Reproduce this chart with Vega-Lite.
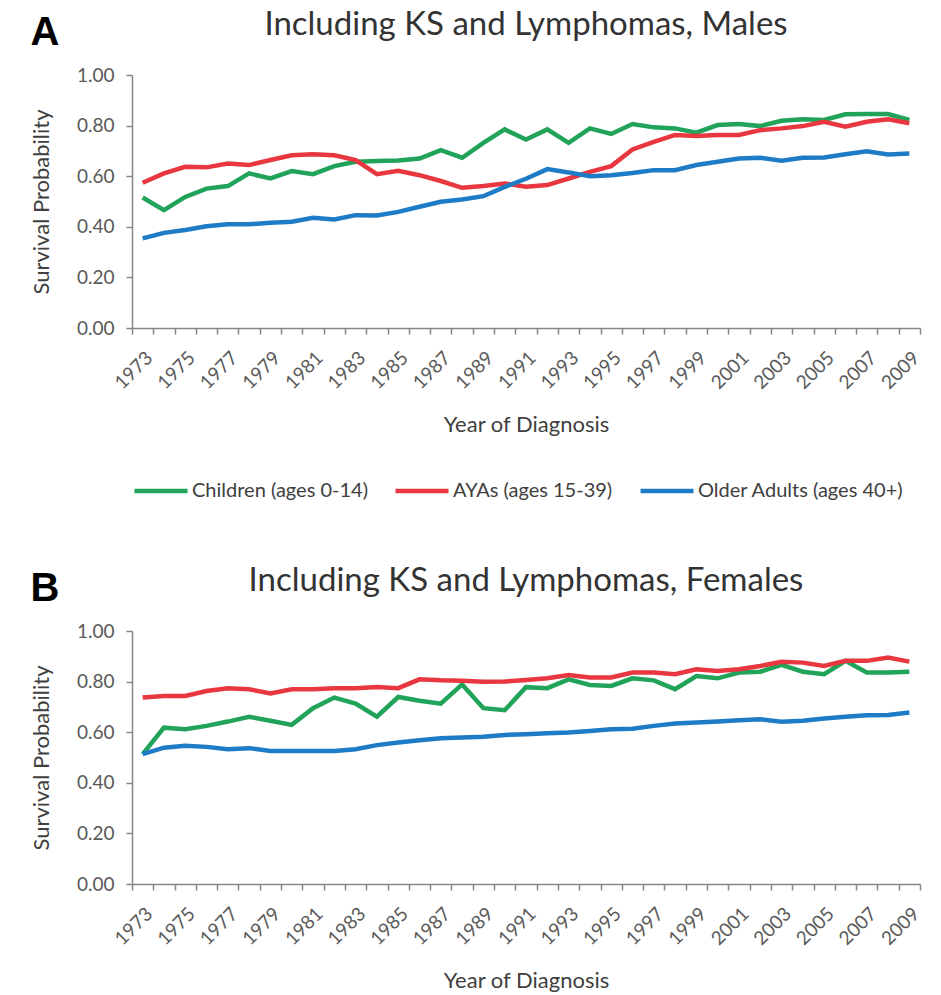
{
  "$schema": "https://vega.github.io/schema/vega-lite/v6.json",
  "background": "white",
  "padding": {"left": 30, "top": 9, "right": 10, "bottom": 2},
  "spacing": 64,
  "config": {
    "font": "Lato",
    "view": {"stroke": null},
    "axis": {
      "labelFont": "Lato",
      "titleFont": "Lato",
      "labelColor": "#595959",
      "titleColor": "#404040",
      "domainColor": "#868686",
      "tickColor": "#868686",
      "domainWidth": 1.5,
      "tickWidth": 1.5,
      "labelFontSize": 19,
      "titleFontSize": 22,
      "titleFontWeight": "normal",
      "grid": false
    },
    "legend": {
      "labelFont": "Lato",
      "labelFontSize": 20,
      "labelColor": "#404040",
      "labelLimit": 300
    }
  },
  "datasets": {
    "survival": [
      {"sex": "M", "year": 1973, "group": "Children (ages 0-14)", "p": 0.516},
      {"sex": "M", "year": 1974, "group": "Children (ages 0-14)", "p": 0.466},
      {"sex": "M", "year": 1975, "group": "Children (ages 0-14)", "p": 0.518},
      {"sex": "M", "year": 1976, "group": "Children (ages 0-14)", "p": 0.551},
      {"sex": "M", "year": 1977, "group": "Children (ages 0-14)", "p": 0.561},
      {"sex": "M", "year": 1978, "group": "Children (ages 0-14)", "p": 0.611},
      {"sex": "M", "year": 1979, "group": "Children (ages 0-14)", "p": 0.591},
      {"sex": "M", "year": 1980, "group": "Children (ages 0-14)", "p": 0.62},
      {"sex": "M", "year": 1981, "group": "Children (ages 0-14)", "p": 0.608},
      {"sex": "M", "year": 1982, "group": "Children (ages 0-14)", "p": 0.64},
      {"sex": "M", "year": 1983, "group": "Children (ages 0-14)", "p": 0.657},
      {"sex": "M", "year": 1984, "group": "Children (ages 0-14)", "p": 0.66},
      {"sex": "M", "year": 1985, "group": "Children (ages 0-14)", "p": 0.662},
      {"sex": "M", "year": 1986, "group": "Children (ages 0-14)", "p": 0.67},
      {"sex": "M", "year": 1987, "group": "Children (ages 0-14)", "p": 0.703},
      {"sex": "M", "year": 1988, "group": "Children (ages 0-14)", "p": 0.673},
      {"sex": "M", "year": 1989, "group": "Children (ages 0-14)", "p": 0.732},
      {"sex": "M", "year": 1990, "group": "Children (ages 0-14)", "p": 0.785},
      {"sex": "M", "year": 1991, "group": "Children (ages 0-14)", "p": 0.745},
      {"sex": "M", "year": 1992, "group": "Children (ages 0-14)", "p": 0.785},
      {"sex": "M", "year": 1993, "group": "Children (ages 0-14)", "p": 0.732},
      {"sex": "M", "year": 1994, "group": "Children (ages 0-14)", "p": 0.789},
      {"sex": "M", "year": 1995, "group": "Children (ages 0-14)", "p": 0.767},
      {"sex": "M", "year": 1996, "group": "Children (ages 0-14)", "p": 0.806},
      {"sex": "M", "year": 1997, "group": "Children (ages 0-14)", "p": 0.793},
      {"sex": "M", "year": 1998, "group": "Children (ages 0-14)", "p": 0.789},
      {"sex": "M", "year": 1999, "group": "Children (ages 0-14)", "p": 0.772},
      {"sex": "M", "year": 2000, "group": "Children (ages 0-14)", "p": 0.802},
      {"sex": "M", "year": 2001, "group": "Children (ages 0-14)", "p": 0.806},
      {"sex": "M", "year": 2002, "group": "Children (ages 0-14)", "p": 0.798},
      {"sex": "M", "year": 2003, "group": "Children (ages 0-14)", "p": 0.819},
      {"sex": "M", "year": 2004, "group": "Children (ages 0-14)", "p": 0.825},
      {"sex": "M", "year": 2005, "group": "Children (ages 0-14)", "p": 0.822},
      {"sex": "M", "year": 2006, "group": "Children (ages 0-14)", "p": 0.845},
      {"sex": "M", "year": 2007, "group": "Children (ages 0-14)", "p": 0.846},
      {"sex": "M", "year": 2008, "group": "Children (ages 0-14)", "p": 0.846},
      {"sex": "M", "year": 2009, "group": "Children (ages 0-14)", "p": 0.822},
      {"sex": "M", "year": 1973, "group": "AYAs (ages 15-39)", "p": 0.574},
      {"sex": "M", "year": 1974, "group": "AYAs (ages 15-39)", "p": 0.611},
      {"sex": "M", "year": 1975, "group": "AYAs (ages 15-39)", "p": 0.637},
      {"sex": "M", "year": 1976, "group": "AYAs (ages 15-39)", "p": 0.635},
      {"sex": "M", "year": 1977, "group": "AYAs (ages 15-39)", "p": 0.65},
      {"sex": "M", "year": 1978, "group": "AYAs (ages 15-39)", "p": 0.644},
      {"sex": "M", "year": 1979, "group": "AYAs (ages 15-39)", "p": 0.664},
      {"sex": "M", "year": 1980, "group": "AYAs (ages 15-39)", "p": 0.683},
      {"sex": "M", "year": 1981, "group": "AYAs (ages 15-39)", "p": 0.687},
      {"sex": "M", "year": 1982, "group": "AYAs (ages 15-39)", "p": 0.683},
      {"sex": "M", "year": 1983, "group": "AYAs (ages 15-39)", "p": 0.664},
      {"sex": "M", "year": 1984, "group": "AYAs (ages 15-39)", "p": 0.608},
      {"sex": "M", "year": 1985, "group": "AYAs (ages 15-39)", "p": 0.621},
      {"sex": "M", "year": 1986, "group": "AYAs (ages 15-39)", "p": 0.604},
      {"sex": "M", "year": 1987, "group": "AYAs (ages 15-39)", "p": 0.581},
      {"sex": "M", "year": 1988, "group": "AYAs (ages 15-39)", "p": 0.554},
      {"sex": "M", "year": 1989, "group": "AYAs (ages 15-39)", "p": 0.561},
      {"sex": "M", "year": 1990, "group": "AYAs (ages 15-39)", "p": 0.571},
      {"sex": "M", "year": 1991, "group": "AYAs (ages 15-39)", "p": 0.558},
      {"sex": "M", "year": 1992, "group": "AYAs (ages 15-39)", "p": 0.565},
      {"sex": "M", "year": 1993, "group": "AYAs (ages 15-39)", "p": 0.591},
      {"sex": "M", "year": 1994, "group": "AYAs (ages 15-39)", "p": 0.617},
      {"sex": "M", "year": 1995, "group": "AYAs (ages 15-39)", "p": 0.64},
      {"sex": "M", "year": 1996, "group": "AYAs (ages 15-39)", "p": 0.706},
      {"sex": "M", "year": 1997, "group": "AYAs (ages 15-39)", "p": 0.736},
      {"sex": "M", "year": 1998, "group": "AYAs (ages 15-39)", "p": 0.763},
      {"sex": "M", "year": 1999, "group": "AYAs (ages 15-39)", "p": 0.759},
      {"sex": "M", "year": 2000, "group": "AYAs (ages 15-39)", "p": 0.763},
      {"sex": "M", "year": 2001, "group": "AYAs (ages 15-39)", "p": 0.763},
      {"sex": "M", "year": 2002, "group": "AYAs (ages 15-39)", "p": 0.782},
      {"sex": "M", "year": 2003, "group": "AYAs (ages 15-39)", "p": 0.789},
      {"sex": "M", "year": 2004, "group": "AYAs (ages 15-39)", "p": 0.798},
      {"sex": "M", "year": 2005, "group": "AYAs (ages 15-39)", "p": 0.815},
      {"sex": "M", "year": 2006, "group": "AYAs (ages 15-39)", "p": 0.796},
      {"sex": "M", "year": 2007, "group": "AYAs (ages 15-39)", "p": 0.815},
      {"sex": "M", "year": 2008, "group": "AYAs (ages 15-39)", "p": 0.825},
      {"sex": "M", "year": 2009, "group": "AYAs (ages 15-39)", "p": 0.809},
      {"sex": "M", "year": 1973, "group": "Older Adults (ages 40+)", "p": 0.354},
      {"sex": "M", "year": 1974, "group": "Older Adults (ages 40+)", "p": 0.376},
      {"sex": "M", "year": 1975, "group": "Older Adults (ages 40+)", "p": 0.387},
      {"sex": "M", "year": 1976, "group": "Older Adults (ages 40+)", "p": 0.402},
      {"sex": "M", "year": 1977, "group": "Older Adults (ages 40+)", "p": 0.41},
      {"sex": "M", "year": 1978, "group": "Older Adults (ages 40+)", "p": 0.41},
      {"sex": "M", "year": 1979, "group": "Older Adults (ages 40+)", "p": 0.416},
      {"sex": "M", "year": 1980, "group": "Older Adults (ages 40+)", "p": 0.42},
      {"sex": "M", "year": 1981, "group": "Older Adults (ages 40+)", "p": 0.436},
      {"sex": "M", "year": 1982, "group": "Older Adults (ages 40+)", "p": 0.429},
      {"sex": "M", "year": 1983, "group": "Older Adults (ages 40+)", "p": 0.446},
      {"sex": "M", "year": 1984, "group": "Older Adults (ages 40+)", "p": 0.445},
      {"sex": "M", "year": 1985, "group": "Older Adults (ages 40+)", "p": 0.459},
      {"sex": "M", "year": 1986, "group": "Older Adults (ages 40+)", "p": 0.479},
      {"sex": "M", "year": 1987, "group": "Older Adults (ages 40+)", "p": 0.499},
      {"sex": "M", "year": 1988, "group": "Older Adults (ages 40+)", "p": 0.508},
      {"sex": "M", "year": 1989, "group": "Older Adults (ages 40+)", "p": 0.521},
      {"sex": "M", "year": 1990, "group": "Older Adults (ages 40+)", "p": 0.558},
      {"sex": "M", "year": 1991, "group": "Older Adults (ages 40+)", "p": 0.59},
      {"sex": "M", "year": 1992, "group": "Older Adults (ages 40+)", "p": 0.628},
      {"sex": "M", "year": 1993, "group": "Older Adults (ages 40+)", "p": 0.615},
      {"sex": "M", "year": 1994, "group": "Older Adults (ages 40+)", "p": 0.6},
      {"sex": "M", "year": 1995, "group": "Older Adults (ages 40+)", "p": 0.604},
      {"sex": "M", "year": 1996, "group": "Older Adults (ages 40+)", "p": 0.613},
      {"sex": "M", "year": 1997, "group": "Older Adults (ages 40+)", "p": 0.624},
      {"sex": "M", "year": 1998, "group": "Older Adults (ages 40+)", "p": 0.624},
      {"sex": "M", "year": 1999, "group": "Older Adults (ages 40+)", "p": 0.644},
      {"sex": "M", "year": 2000, "group": "Older Adults (ages 40+)", "p": 0.657},
      {"sex": "M", "year": 2001, "group": "Older Adults (ages 40+)", "p": 0.67},
      {"sex": "M", "year": 2002, "group": "Older Adults (ages 40+)", "p": 0.673},
      {"sex": "M", "year": 2003, "group": "Older Adults (ages 40+)", "p": 0.661},
      {"sex": "M", "year": 2004, "group": "Older Adults (ages 40+)", "p": 0.673},
      {"sex": "M", "year": 2005, "group": "Older Adults (ages 40+)", "p": 0.674},
      {"sex": "M", "year": 2006, "group": "Older Adults (ages 40+)", "p": 0.687},
      {"sex": "M", "year": 2007, "group": "Older Adults (ages 40+)", "p": 0.699},
      {"sex": "M", "year": 2008, "group": "Older Adults (ages 40+)", "p": 0.686},
      {"sex": "M", "year": 2009, "group": "Older Adults (ages 40+)", "p": 0.69},
      {"sex": "F", "year": 1973, "group": "Children (ages 0-14)", "p": 0.513},
      {"sex": "F", "year": 1974, "group": "Children (ages 0-14)", "p": 0.618},
      {"sex": "F", "year": 1975, "group": "Children (ages 0-14)", "p": 0.612},
      {"sex": "F", "year": 1976, "group": "Children (ages 0-14)", "p": 0.625},
      {"sex": "F", "year": 1977, "group": "Children (ages 0-14)", "p": 0.642},
      {"sex": "F", "year": 1978, "group": "Children (ages 0-14)", "p": 0.661},
      {"sex": "F", "year": 1979, "group": "Children (ages 0-14)", "p": 0.645},
      {"sex": "F", "year": 1980, "group": "Children (ages 0-14)", "p": 0.629},
      {"sex": "F", "year": 1981, "group": "Children (ages 0-14)", "p": 0.695},
      {"sex": "F", "year": 1982, "group": "Children (ages 0-14)", "p": 0.737},
      {"sex": "F", "year": 1983, "group": "Children (ages 0-14)", "p": 0.713},
      {"sex": "F", "year": 1984, "group": "Children (ages 0-14)", "p": 0.661},
      {"sex": "F", "year": 1985, "group": "Children (ages 0-14)", "p": 0.739},
      {"sex": "F", "year": 1986, "group": "Children (ages 0-14)", "p": 0.724},
      {"sex": "F", "year": 1987, "group": "Children (ages 0-14)", "p": 0.713},
      {"sex": "F", "year": 1988, "group": "Children (ages 0-14)", "p": 0.789},
      {"sex": "F", "year": 1989, "group": "Children (ages 0-14)", "p": 0.695},
      {"sex": "F", "year": 1990, "group": "Children (ages 0-14)", "p": 0.687},
      {"sex": "F", "year": 1991, "group": "Children (ages 0-14)", "p": 0.778},
      {"sex": "F", "year": 1992, "group": "Children (ages 0-14)", "p": 0.774},
      {"sex": "F", "year": 1993, "group": "Children (ages 0-14)", "p": 0.809},
      {"sex": "F", "year": 1994, "group": "Children (ages 0-14)", "p": 0.787},
      {"sex": "F", "year": 1995, "group": "Children (ages 0-14)", "p": 0.783},
      {"sex": "F", "year": 1996, "group": "Children (ages 0-14)", "p": 0.813},
      {"sex": "F", "year": 1997, "group": "Children (ages 0-14)", "p": 0.805},
      {"sex": "F", "year": 1998, "group": "Children (ages 0-14)", "p": 0.77},
      {"sex": "F", "year": 1999, "group": "Children (ages 0-14)", "p": 0.822},
      {"sex": "F", "year": 2000, "group": "Children (ages 0-14)", "p": 0.813},
      {"sex": "F", "year": 2001, "group": "Children (ages 0-14)", "p": 0.836},
      {"sex": "F", "year": 2002, "group": "Children (ages 0-14)", "p": 0.839},
      {"sex": "F", "year": 2003, "group": "Children (ages 0-14)", "p": 0.866},
      {"sex": "F", "year": 2004, "group": "Children (ages 0-14)", "p": 0.839},
      {"sex": "F", "year": 2005, "group": "Children (ages 0-14)", "p": 0.829},
      {"sex": "F", "year": 2006, "group": "Children (ages 0-14)", "p": 0.882},
      {"sex": "F", "year": 2007, "group": "Children (ages 0-14)", "p": 0.836},
      {"sex": "F", "year": 2008, "group": "Children (ages 0-14)", "p": 0.836},
      {"sex": "F", "year": 2009, "group": "Children (ages 0-14)", "p": 0.839},
      {"sex": "F", "year": 1973, "group": "AYAs (ages 15-39)", "p": 0.737},
      {"sex": "F", "year": 1974, "group": "AYAs (ages 15-39)", "p": 0.743},
      {"sex": "F", "year": 1975, "group": "AYAs (ages 15-39)", "p": 0.743},
      {"sex": "F", "year": 1976, "group": "AYAs (ages 15-39)", "p": 0.763},
      {"sex": "F", "year": 1977, "group": "AYAs (ages 15-39)", "p": 0.774},
      {"sex": "F", "year": 1978, "group": "AYAs (ages 15-39)", "p": 0.77},
      {"sex": "F", "year": 1979, "group": "AYAs (ages 15-39)", "p": 0.753},
      {"sex": "F", "year": 1980, "group": "AYAs (ages 15-39)", "p": 0.77},
      {"sex": "F", "year": 1981, "group": "AYAs (ages 15-39)", "p": 0.77},
      {"sex": "F", "year": 1982, "group": "AYAs (ages 15-39)", "p": 0.774},
      {"sex": "F", "year": 1983, "group": "AYAs (ages 15-39)", "p": 0.774},
      {"sex": "F", "year": 1984, "group": "AYAs (ages 15-39)", "p": 0.779},
      {"sex": "F", "year": 1985, "group": "AYAs (ages 15-39)", "p": 0.774},
      {"sex": "F", "year": 1986, "group": "AYAs (ages 15-39)", "p": 0.809},
      {"sex": "F", "year": 1987, "group": "AYAs (ages 15-39)", "p": 0.805},
      {"sex": "F", "year": 1988, "group": "AYAs (ages 15-39)", "p": 0.803},
      {"sex": "F", "year": 1989, "group": "AYAs (ages 15-39)", "p": 0.799},
      {"sex": "F", "year": 1990, "group": "AYAs (ages 15-39)", "p": 0.8},
      {"sex": "F", "year": 1991, "group": "AYAs (ages 15-39)", "p": 0.806},
      {"sex": "F", "year": 1992, "group": "AYAs (ages 15-39)", "p": 0.813},
      {"sex": "F", "year": 1993, "group": "AYAs (ages 15-39)", "p": 0.826},
      {"sex": "F", "year": 1994, "group": "AYAs (ages 15-39)", "p": 0.816},
      {"sex": "F", "year": 1995, "group": "AYAs (ages 15-39)", "p": 0.816},
      {"sex": "F", "year": 1996, "group": "AYAs (ages 15-39)", "p": 0.836},
      {"sex": "F", "year": 1997, "group": "AYAs (ages 15-39)", "p": 0.836},
      {"sex": "F", "year": 1998, "group": "AYAs (ages 15-39)", "p": 0.829},
      {"sex": "F", "year": 1999, "group": "AYAs (ages 15-39)", "p": 0.849},
      {"sex": "F", "year": 2000, "group": "AYAs (ages 15-39)", "p": 0.842},
      {"sex": "F", "year": 2001, "group": "AYAs (ages 15-39)", "p": 0.849},
      {"sex": "F", "year": 2002, "group": "AYAs (ages 15-39)", "p": 0.862},
      {"sex": "F", "year": 2003, "group": "AYAs (ages 15-39)", "p": 0.878},
      {"sex": "F", "year": 2004, "group": "AYAs (ages 15-39)", "p": 0.875},
      {"sex": "F", "year": 2005, "group": "AYAs (ages 15-39)", "p": 0.862},
      {"sex": "F", "year": 2006, "group": "AYAs (ages 15-39)", "p": 0.882},
      {"sex": "F", "year": 2007, "group": "AYAs (ages 15-39)", "p": 0.882},
      {"sex": "F", "year": 2008, "group": "AYAs (ages 15-39)", "p": 0.895},
      {"sex": "F", "year": 2009, "group": "AYAs (ages 15-39)", "p": 0.879},
      {"sex": "F", "year": 1973, "group": "Older Adults (ages 40+)", "p": 0.513},
      {"sex": "F", "year": 1974, "group": "Older Adults (ages 40+)", "p": 0.539},
      {"sex": "F", "year": 1975, "group": "Older Adults (ages 40+)", "p": 0.546},
      {"sex": "F", "year": 1976, "group": "Older Adults (ages 40+)", "p": 0.542},
      {"sex": "F", "year": 1977, "group": "Older Adults (ages 40+)", "p": 0.533},
      {"sex": "F", "year": 1978, "group": "Older Adults (ages 40+)", "p": 0.537},
      {"sex": "F", "year": 1979, "group": "Older Adults (ages 40+)", "p": 0.526},
      {"sex": "F", "year": 1980, "group": "Older Adults (ages 40+)", "p": 0.526},
      {"sex": "F", "year": 1981, "group": "Older Adults (ages 40+)", "p": 0.526},
      {"sex": "F", "year": 1982, "group": "Older Adults (ages 40+)", "p": 0.526},
      {"sex": "F", "year": 1983, "group": "Older Adults (ages 40+)", "p": 0.533},
      {"sex": "F", "year": 1984, "group": "Older Adults (ages 40+)", "p": 0.549},
      {"sex": "F", "year": 1985, "group": "Older Adults (ages 40+)", "p": 0.559},
      {"sex": "F", "year": 1986, "group": "Older Adults (ages 40+)", "p": 0.568},
      {"sex": "F", "year": 1987, "group": "Older Adults (ages 40+)", "p": 0.576},
      {"sex": "F", "year": 1988, "group": "Older Adults (ages 40+)", "p": 0.579},
      {"sex": "F", "year": 1989, "group": "Older Adults (ages 40+)", "p": 0.582},
      {"sex": "F", "year": 1990, "group": "Older Adults (ages 40+)", "p": 0.589},
      {"sex": "F", "year": 1991, "group": "Older Adults (ages 40+)", "p": 0.592},
      {"sex": "F", "year": 1992, "group": "Older Adults (ages 40+)", "p": 0.596},
      {"sex": "F", "year": 1993, "group": "Older Adults (ages 40+)", "p": 0.599},
      {"sex": "F", "year": 1994, "group": "Older Adults (ages 40+)", "p": 0.605},
      {"sex": "F", "year": 1995, "group": "Older Adults (ages 40+)", "p": 0.612},
      {"sex": "F", "year": 1996, "group": "Older Adults (ages 40+)", "p": 0.614},
      {"sex": "F", "year": 1997, "group": "Older Adults (ages 40+)", "p": 0.625},
      {"sex": "F", "year": 1998, "group": "Older Adults (ages 40+)", "p": 0.634},
      {"sex": "F", "year": 1999, "group": "Older Adults (ages 40+)", "p": 0.638},
      {"sex": "F", "year": 2000, "group": "Older Adults (ages 40+)", "p": 0.642},
      {"sex": "F", "year": 2001, "group": "Older Adults (ages 40+)", "p": 0.647},
      {"sex": "F", "year": 2002, "group": "Older Adults (ages 40+)", "p": 0.651},
      {"sex": "F", "year": 2003, "group": "Older Adults (ages 40+)", "p": 0.641},
      {"sex": "F", "year": 2004, "group": "Older Adults (ages 40+)", "p": 0.645},
      {"sex": "F", "year": 2005, "group": "Older Adults (ages 40+)", "p": 0.654},
      {"sex": "F", "year": 2006, "group": "Older Adults (ages 40+)", "p": 0.661},
      {"sex": "F", "year": 2007, "group": "Older Adults (ages 40+)", "p": 0.667},
      {"sex": "F", "year": 2008, "group": "Older Adults (ages 40+)", "p": 0.668},
      {"sex": "F", "year": 2009, "group": "Older Adults (ages 40+)", "p": 0.678}
    ]
  },
  "vconcat": [
    {
      "title": {"text": "A", "anchor": "start", "frame": "bounds", "font": "Liberation Sans", "fontSize": 40, "fontWeight": "bold", "color": "#000000", "offset": -44},
      "vconcat": [
        {
          "width": 788,
          "height": 253,
          "title": {"text": "Including KS and Lymphomas, Males", "anchor": "middle", "fontSize": 33, "fontWeight": "normal", "color": "#333333", "offset": 24},
          "data": {"name": "survival"},
          "transform": [{"filter": "datum.sex == 'M'"}],
          "mark": {"type": "line", "strokeWidth": 4.5},
          "encoding": {
            "x": {
              "field": "year", "type": "ordinal",
              "scale": {"type": "band", "paddingInner": 0, "paddingOuter": 0},
              "axis": {"title": "Year of Diagnosis", "labelAngle": -45, "tickBand": "extent", "tickSize": 6, "labelPadding": 14, "titlePadding": 22,
                       "labelExpr": "datum.value % 2 == 1 ? datum.label : ''"}
            },
            "y": {
              "field": "p", "type": "quantitative",
              "scale": {"domain": [0, 1]},
              "axis": {"title": "Survival Probability", "format": ".2f", "values": [0, 0.2, 0.4, 0.6, 0.8, 1], "tickSize": 6, "labelPadding": 12, "titlePadding": 23}
            },
            "color": {
              "field": "group", "type": "nominal",
              "scale": {"domain": ["Children (ages 0-14)", "AYAs (ages 15-39)", "Older Adults (ages 40+)"], "range": ["#21a35a", "#e8373f", "#1e7bc6"]},
              "legend": {"orient": "bottom", "title": null, "direction": "horizontal", "symbolType": "stroke", "symbolSize": 2809, "symbolStrokeWidth": 4.5, "labelOffset": 2, "columnPadding": 18, "offset": 26}
            }
          }
        }
      ]
    },
    {
      "title": {"text": "B", "anchor": "start", "frame": "bounds", "font": "Liberation Sans", "fontSize": 40, "fontWeight": "bold", "color": "#000000", "offset": -44},
      "vconcat": [
        {
          "width": 788,
          "height": 253,
          "title": {"text": "Including KS and Lymphomas, Females", "anchor": "middle", "fontSize": 33, "fontWeight": "normal", "color": "#333333", "offset": 24},
          "data": {"name": "survival"},
          "transform": [{"filter": "datum.sex == 'F'"}],
          "mark": {"type": "line", "strokeWidth": 4.5},
          "encoding": {
            "x": {
              "field": "year", "type": "ordinal",
              "scale": {"type": "band", "paddingInner": 0, "paddingOuter": 0},
              "axis": {"title": "Year of Diagnosis", "labelAngle": -45, "tickBand": "extent", "tickSize": 6, "labelPadding": 14, "titlePadding": 22,
                       "labelExpr": "datum.value % 2 == 1 ? datum.label : ''"}
            },
            "y": {
              "field": "p", "type": "quantitative",
              "scale": {"domain": [0, 1]},
              "axis": {"title": "Survival Probability", "format": ".2f", "values": [0, 0.2, 0.4, 0.6, 0.8, 1], "tickSize": 6, "labelPadding": 12, "titlePadding": 23}
            },
            "color": {
              "field": "group", "type": "nominal",
              "scale": {"domain": ["Children (ages 0-14)", "AYAs (ages 15-39)", "Older Adults (ages 40+)"], "range": ["#21a35a", "#e8373f", "#1e7bc6"]},
              "legend": null
            }
          }
        }
      ]
    }
  ],
  "resolve": {"legend": {"color": "independent"}}
}
